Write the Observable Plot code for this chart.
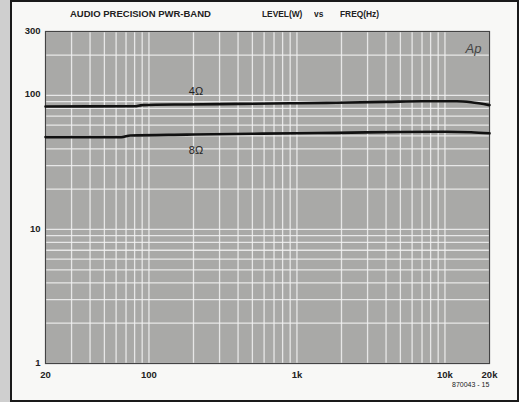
<!DOCTYPE html>
<html>
<head>
<meta charset="utf-8">
<script src="https://cdn.jsdelivr.net/npm/d3@7"></script>
<script src="https://cdn.jsdelivr.net/npm/@observablehq/plot@0.6"></script>
<style>
  html, body { margin: 0; padding: 0; background: #f8f8f6; }
  #page { position: relative; width: 519px; height: 402px; overflow: hidden; background: #f8f8f6; }
  #stripe { position: absolute; left: 0; top: 0; width: 10px; height: 402px; background: #cfcfcf; }
  #border { position: absolute; left: 10px; top: 0px; width: 505px; height: 398px; border: 2px solid #1a1a1a; box-sizing: content-box; }
  #chart { position: absolute; left: 0; top: 0; }
  .t { position: absolute; font-family: "Liberation Sans", Arial, sans-serif; font-weight: bold; font-size: 9.5px; color: #222; white-space: pre; transform-origin: left center; }
</style>
</head>
<body>
<div id="page">
  <div id="stripe"></div>
  <div id="border"></div>
  <div id="chart"></div>
  <div class="t" style="left:70px; top:8px; transform: scaleX(1.0);">AUDIO PRECISION PWR-BAND</div>
  <div class="t" style="left:262px; top:8px; transform: scaleX(0.88);">LEVEL(W)</div>
  <div class="t" style="left:314px; top:8px; transform: scaleX(0.88);">vs</div>
  <div class="t" style="left:340px; top:8px; transform: scaleX(0.88);">FREQ(Hz)</div>
  <div class="t" style="left:452px; top:381px; font-size:7px; font-weight:normal;">870043 - 15</div>
</div>
<script>
// ---- data ----
const freq4 = [20, 80, 90, 180, 400, 1000, 1850, 4000, 7000, 12000, 15000, 20000];
const watt4 = [82.8, 83.0, 84.7, 85.7, 86.5, 87.5, 88.2, 89.5, 90.6, 90.5, 89.0, 84.7];
const freq8 = [20, 65, 75, 180, 500, 1000, 1850, 5000, 10000, 15000, 20000];
const watt8 = [48.9, 48.9, 50.3, 51.0, 51.8, 52.3, 52.6, 53.4, 53.6, 53.2, 52.2];
const xGrid = [20,30,40,50,60,70,80,90,100,200,300,400,500,600,700,800,900,1000,2000,3000,4000,5000,6000,7000,8000,9000,10000,20000];
const yGrid = [1,2,3,4,5,6,7,8,9,10,20,30,40,50,60,70,80,90,100,200,300];
const xTicks = [20, 100, 1000, 10000, 20000];
const xTickLabels = ["20", "100", "1k", "10k", "20k"];
const yTicks = [1, 10, 100, 300];
const yTickLabels = ["1", "10", "100", "300"];
const curveLabels = [
  {f: 208, w: 107, label: "4Ω"},
  {f: 208, w: 38.8, label: "8Ω"}
];

const s4 = freq4.map((f, i) => ({f, w: watt4[i]}));
const s8 = freq8.map((f, i) => ({f, w: watt8[i]}));

const chart = Plot.plot({
  width: 519,
  height: 402,
  marginLeft: 45,
  marginRight: 30,
  marginTop: 31,
  marginBottom: 39,
  style: {background: "transparent", fontFamily: "'Liberation Sans', Arial, sans-serif", overflow: "visible"},
  x: {type: "log", domain: [20, 20000], axis: null},
  y: {type: "log", domain: [1, 300], axis: null},
  marks: [
    Plot.frame({fill: "#a9a9a7"}),
    Plot.ruleX(xGrid, {stroke: "#f2f2f2", strokeWidth: 1.3, strokeOpacity: 0.85}),
    Plot.ruleY(yGrid, {stroke: "#f2f2f2", strokeWidth: 1.3, strokeOpacity: 0.85}),
    Plot.frame({stroke: "#444", strokeWidth: 1.2}),
    Plot.line(s4, {x: "f", y: "w", stroke: "#111", strokeWidth: 2.6, curve: "monotone-x"}),
    Plot.line(s8, {x: "f", y: "w", stroke: "#111", strokeWidth: 2.6, curve: "monotone-x"}),
    Plot.text(curveLabels, {x: "f", y: "w", text: "label", fontSize: 11, fill: "#222"}),
    Plot.text(["Ap"], {frameAnchor: "top-right", dx: -8, dy: 12, text: d => d, fontSize: 13, fontStyle: "italic", fill: "#444"}),
    Plot.text(xTicks, {x: d => d, frameAnchor: "bottom", dy: 14, text: (d, i) => xTickLabels[i], fontSize: 9.5, fontWeight: "bold", fill: "#222"}),
    Plot.text(yTicks, {y: d => d, frameAnchor: "left", dx: -5, dy: -1, textAnchor: "end", text: (d, i) => yTickLabels[i], fontSize: 9.5, fontWeight: "bold", fill: "#222"})
  ]
});
document.getElementById("chart").appendChild(chart);
</script>
</body>
</html>
